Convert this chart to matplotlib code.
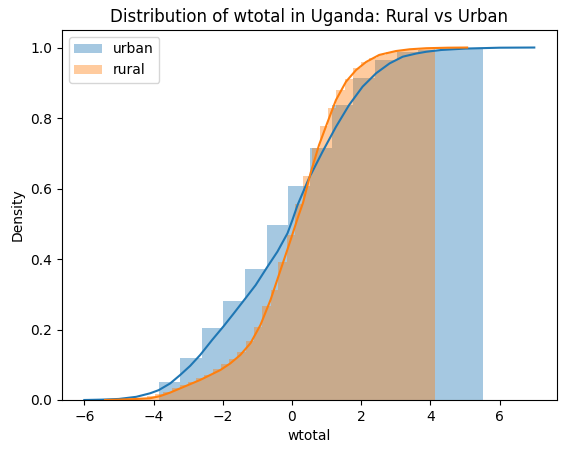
import numpy as np
import matplotlib
matplotlib.use("Agg")
import matplotlib.pyplot as plt

# cumulative histogram (density)
urban_edges = [-3.855, -3.23, -2.605, -1.98, -1.355, -0.73, -0.105, 0.52, 1.145,
               1.77, 2.395, 3.02, 3.645, 4.27, 4.895, 5.52]
urban_hist = [0.050, 0.120, 0.205, 0.282, 0.372, 0.496, 0.607, 0.714, 0.837,
              0.914, 0.966, 0.986, 0.993, 0.998, 1.0]

rural_edges = [-4.67, -4.43, -4.19, -3.96, -3.72, -3.48, -3.24, -3.00, -2.77, -2.53,
               -2.29, -2.05, -1.81, -1.58, -1.34, -1.10, -0.86, -0.62, -0.39, -0.15,
               0.09, 0.33, 0.57, 0.80, 1.04, 1.28, 1.52, 1.76, 1.99, 2.23,
               2.47, 2.71, 2.95, 3.18, 3.42, 3.66, 3.90, 4.136]
rural_hist = [0.003, 0.006, 0.010, 0.016, 0.024, 0.033, 0.043, 0.050, 0.061, 0.070,
              0.087, 0.101, 0.116, 0.137, 0.167, 0.207, 0.267, 0.312, 0.392, 0.468,
              0.555, 0.635, 0.714, 0.777, 0.828, 0.879, 0.910, 0.941, 0.959, 0.971,
              0.979, 0.986, 0.989, 0.992, 0.994, 0.996, 0.999]

# cumulative kde curves
urban_kde_x = [-6.0, -5.5, -5.0, -4.5, -4.1, -3.85, -3.52, -3.23, -2.94, -2.65, -2.31,
               -1.97, -1.68, -1.34, -1.05, -0.71, -0.42, -0.13, 0.01, 0.16, 0.49,
               0.88, 1.27, 1.65, 2.04, 2.43, 2.82, 3.20, 3.59, 3.88, 4.31,
               5.0, 6.0, 7.0]
urban_kde_y = [0.0, 0.001, 0.003, 0.009, 0.019, 0.028, 0.047, 0.071, 0.097, 0.128, 0.170,
               0.210, 0.246, 0.289, 0.326, 0.378, 0.421, 0.473, 0.510, 0.553, 0.629,
               0.704, 0.775, 0.837, 0.889, 0.927, 0.955, 0.974, 0.983, 0.988, 0.993,
               0.997, 0.9995, 1.0]

rural_kde_x = [-5.4, -5.0, -4.5, -4.1, -3.81, -3.52, -3.23, -2.94, -2.65, -2.36, -2.07,
               -1.78, -1.49, -1.20, -0.91, -0.62, -0.33, -0.04, 0.16, 0.32, 0.54,
               0.78, 1.03, 1.27, 1.56, 1.85, 2.14, 2.52, 3.0, 3.4,
               3.88, 4.5, 5.06]
rural_kde_y = [0.0, 0.001, 0.003, 0.005, 0.011, 0.021, 0.033, 0.045, 0.057, 0.071, 0.085,
               0.104, 0.128, 0.161, 0.213, 0.284, 0.369, 0.454, 0.515, 0.560, 0.645,
               0.723, 0.789, 0.851, 0.903, 0.936, 0.959, 0.979, 0.990, 0.995,
               0.998, 0.9995, 1.0]

fig, ax = plt.subplots(figsize=(5.67, 4.53), dpi=100)
fig.subplots_adjust(left=0.109, right=0.982, bottom=0.117, top=0.934)

# urban first, then rural (same order as distplot calls)
ue = np.array(urban_edges)
ax.bar(ue[:-1], urban_hist, width=np.diff(ue), align="edge",
       color="tab:blue", alpha=0.4, linewidth=0, label="urban")
ax.plot(urban_kde_x, urban_kde_y, color="tab:blue", lw=1.5)

re_ = np.array(rural_edges)
ax.bar(re_[:-1], rural_hist, width=np.diff(re_), align="edge",
       color="tab:orange", alpha=0.4, linewidth=0, label="rural")
ax.plot(rural_kde_x, rural_kde_y, color="tab:orange", lw=1.5)

ax.set_title("Distribution of wtotal in Uganda: Rural vs Urban")
ax.set_xlabel("wtotal")
ax.set_ylabel("Density")
ax.legend(loc="upper left")

fig.savefig("out.png", dpi=100)
